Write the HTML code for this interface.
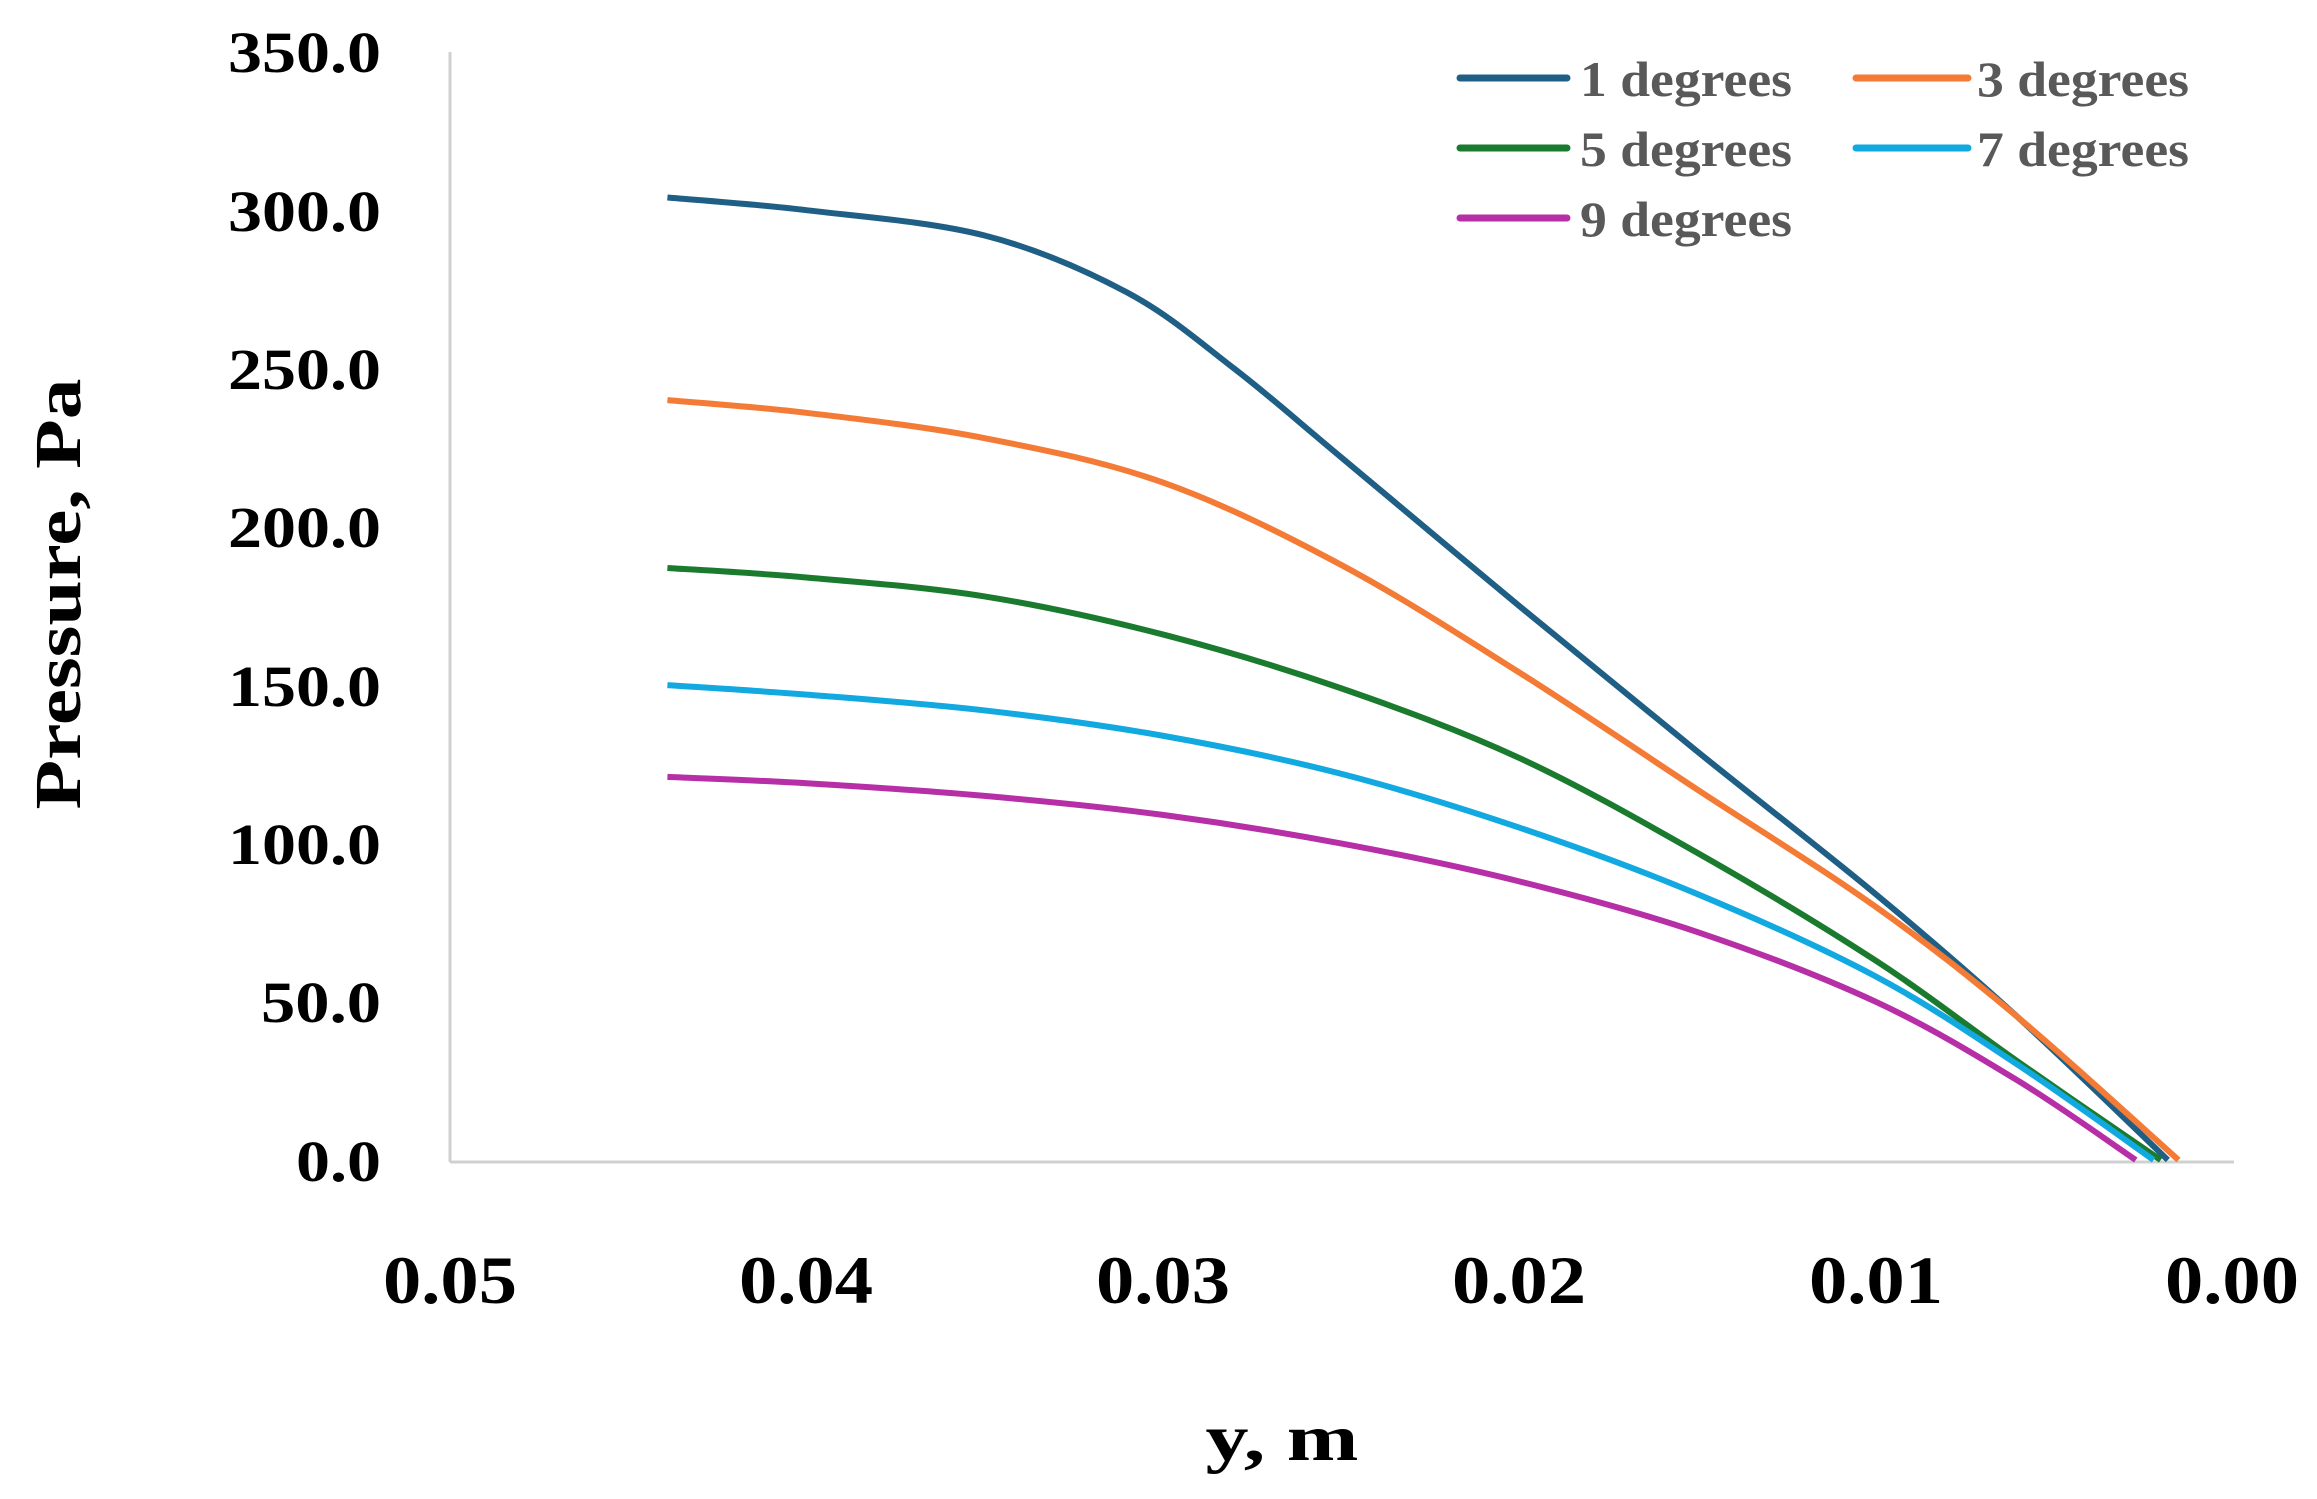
<!DOCTYPE html>
<html><head><meta charset="utf-8"><style>
html,body{margin:0;padding:0;background:#fff}
svg text{font-family:"Liberation Serif",serif;font-weight:bold}
</style></head><body>
<svg id="s" width="2317" height="1494" viewBox="0 0 2317 1494" xmlns="http://www.w3.org/2000/svg">
<line x1="450" y1="52" x2="450" y2="1162" stroke="#d0d0d0" stroke-width="3"/>
<line x1="450" y1="1162" x2="2234" y2="1162" stroke="#d0d0d0" stroke-width="3"/>
<g font-size="58" text-anchor="end" fill="#000">
<text x="381" y="72" textLength="153" lengthAdjust="spacingAndGlyphs">350.0</text>
<text x="381" y="231" textLength="153" lengthAdjust="spacingAndGlyphs">300.0</text>
<text x="381" y="389" textLength="153" lengthAdjust="spacingAndGlyphs">250.0</text>
<text x="381" y="547" textLength="153" lengthAdjust="spacingAndGlyphs">200.0</text>
<text x="381" y="706" textLength="153" lengthAdjust="spacingAndGlyphs">150.0</text>
<text x="381" y="864" textLength="153" lengthAdjust="spacingAndGlyphs">100.0</text>
<text x="381" y="1022" textLength="120" lengthAdjust="spacingAndGlyphs">50.0</text>
<text x="381" y="1181" textLength="85" lengthAdjust="spacingAndGlyphs">0.0</text>
</g>
<g font-size="68" text-anchor="middle" fill="#000">
<text x="450" y="1303" textLength="134" lengthAdjust="spacingAndGlyphs">0.05</text>
<text x="806" y="1303" textLength="134" lengthAdjust="spacingAndGlyphs">0.04</text>
<text x="1163" y="1303" textLength="134" lengthAdjust="spacingAndGlyphs">0.03</text>
<text x="1519" y="1303" textLength="134" lengthAdjust="spacingAndGlyphs">0.02</text>
<text x="1876" y="1303" textLength="134" lengthAdjust="spacingAndGlyphs">0.01</text>
<text x="2232" y="1303" textLength="134" lengthAdjust="spacingAndGlyphs">0.00</text>
<text x="1282" y="1460" font-size="66" textLength="153" lengthAdjust="spacingAndGlyphs">y, m</text>
<text transform="translate(80,594) rotate(-90)" font-size="66" textLength="431" lengthAdjust="spacingAndGlyphs">Pressure, Pa</text>
</g>
<g stroke-width="7" stroke-linecap="round">
<line x1="1460" y1="78" x2="1567" y2="78" stroke="#1f5f86"/>
<line x1="1856" y1="78" x2="1968" y2="78" stroke="#f47b35"/>
<line x1="1460" y1="148" x2="1567" y2="148" stroke="#1a7a2e"/>
<line x1="1856" y1="148" x2="1968" y2="148" stroke="#12a8e0"/>
<line x1="1460" y1="218" x2="1567" y2="218" stroke="#b62fa6"/>
</g>
<g font-size="50" fill="#595959">
<text x="1580" y="96" textLength="212" lengthAdjust="spacingAndGlyphs">1 degrees</text>
<text x="1977" y="96" textLength="212" lengthAdjust="spacingAndGlyphs">3 degrees</text>
<text x="1580" y="166" textLength="212" lengthAdjust="spacingAndGlyphs">5 degrees</text>
<text x="1977" y="166" textLength="212" lengthAdjust="spacingAndGlyphs">7 degrees</text>
<text x="1580" y="236" textLength="212" lengthAdjust="spacingAndGlyphs">9 degrees</text>
</g>
<g id="curves" fill="none" stroke-width="6" stroke-linejoin="round"></g>
</svg>
<script>
var X=function(y){return 450+(0.05-y)*35640},Y=function(p){return 1160-p*3.166};
var series=[
["#1f5f86",[[0.0439,304],[0.040,300],[0.035,292],[0.031,274],[0.028,250],[0.025,222],[0.020,175],[0.015,129],[0.010,84],[0.006,45],[0.0018,0]]],
["#f47b35",[[0.0439,240],[0.040,236],[0.035,228],[0.030,214],[0.025,188],[0.020,154],[0.015,117],[0.010,80],[0.006,45],[0.0015,0]]],
["#1a7a2e",[[0.0439,187],[0.040,184],[0.035,178],[0.030,166],[0.025,149],[0.020,127],[0.015,97],[0.010,63],[0.006,31],[0.002,0]]],
["#12a8e0",[[0.0439,150],[0.040,147],[0.035,142],[0.030,134],[0.025,122],[0.020,105],[0.015,84],[0.010,58],[0.006,30],[0.0022,0]]],
["#b62fa6",[[0.0439,121],[0.040,119],[0.035,115],[0.030,109],[0.025,100],[0.020,88],[0.015,72],[0.010,50],[0.006,25],[0.0027,0]]]];
var g=document.getElementById('curves');
series.forEach(function(s){
 var p=s[1].map(function(a){return [X(a[0]),Y(a[1])]});
 var d='M'+p[0][0]+','+p[0][1];
 for(var i=0;i<p.length-1;i++){
  var p0=p[i-1]||p[i],p1=p[i],p2=p[i+1],p3=p[i+2]||p2;
  d+=' C'+(p1[0]+(p2[0]-p0[0])/6)+','+(p1[1]+(p2[1]-p0[1])/6)+' '+(p2[0]-(p3[0]-p1[0])/6)+','+(p2[1]-(p3[1]-p1[1])/6)+' '+p2[0]+','+p2[1];
 }
 var e=document.createElementNS('http://www.w3.org/2000/svg','path');
 e.setAttribute('d',d);e.setAttribute('stroke',s[0]);g.appendChild(e);
});
</script>
</body></html>
